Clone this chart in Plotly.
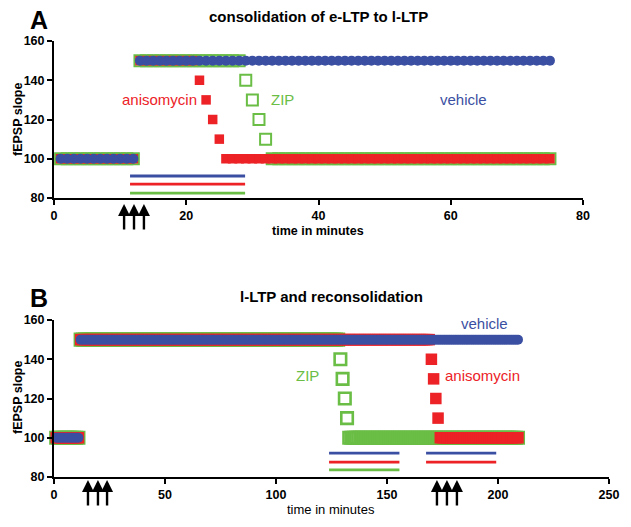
import plotly.graph_objects as go

# ---------------- Panel A data (minutes, fEPSP slope) ----------------
A_minutes = [
    1, 2, 3, 4, 5, 6, 7, 8, 9, 10,
    11, 12, 13, 14, 15, 16, 17, 18, 19, 20,
    21, 22, 23, 24, 25, 26, 27, 28, 29, 30,
    31, 32, 33, 34, 35, 36, 37, 38, 39, 40,
    41, 42, 43, 44, 45, 46, 47, 48, 49, 50,
    51, 52, 53, 54, 55, 56, 57, 58, 59, 60,
    61, 62, 63, 64, 65, 66, 67, 68, 69, 70,
    71, 72, 73, 74, 75,
]
A_vehicle = [
    100, 100, 100, 100, 100, 100, 100, 100, 100, 100,
    100, 100, 150, 150, 150, 150, 150, 150, 150, 150,
    150, 150, 150, 150, 150, 150, 150, 150, 150, 150,
    150, 150, 150, 150, 150, 150, 150, 150, 150, 150,
    150, 150, 150, 150, 150, 150, 150, 150, 150, 150,
    150, 150, 150, 150, 150, 150, 150, 150, 150, 150,
    150, 150, 150, 150, 150, 150, 150, 150, 150, 150,
    150, 150, 150, 150, 150,
]
A_anisomycin = [
    100, 100, 100, 100, 100, 100, 100, 100, 100, 100,
    100, 100, 150, 150, 150, 150, 150, 150, 150, 150,
    150, 140, 130, 120, 110, 100, 100, 100, 100, 100,
    100, 100, 100, 100, 100, 100, 100, 100, 100, 100,
    100, 100, 100, 100, 100, 100, 100, 100, 100, 100,
    100, 100, 100, 100, 100, 100, 100, 100, 100, 100,
    100, 100, 100, 100, 100, 100, 100, 100, 100, 100,
    100, 100, 100, 100, 100,
]
A_zip = [
    100, 100, 100, 100, 100, 100, 100, 100, 100, 100,
    100, 100, 150, 150, 150, 150, 150, 150, 150, 150,
    150, 150, 150, 150, 150, 150, 150, 150, 140, 130,
    120, 110, 100, 100, 100, 100, 100, 100, 100, 100,
    100, 100, 100, 100, 100, 100, 100, 100, 100, 100,
    100, 100, 100, 100, 100, 100, 100, 100, 100, 100,
    100, 100, 100, 100, 100, 100, 100, 100, 100, 100,
    100, 100, 100, 100, 100,
]
A_bar_span = [11.5, 28.9]
A_bar_levels = {"vehicle": 91.2, "anisomycin": 87.1, "ZIP": 82.5}
A_arrows = [10.6, 12.1, 13.6]
A_xticks = [0, 20, 40, 60, 80]

# ---------------- Panel B data ----------------
B_minutes = [
    1, 2, 3, 4, 5, 6, 7, 8, 9, 10,
    11, 12, 13, 14, 15, 16, 17, 18, 19, 20,
    21, 22, 23, 24, 25, 26, 27, 28, 29, 30,
    31, 32, 33, 34, 35, 36, 37, 38, 39, 40,
    41, 42, 43, 44, 45, 46, 47, 48, 49, 50,
    51, 52, 53, 54, 55, 56, 57, 58, 59, 60,
    61, 62, 63, 64, 65, 66, 67, 68, 69, 70,
    71, 72, 73, 74, 75, 76, 77, 78, 79, 80,
    81, 82, 83, 84, 85, 86, 87, 88, 89, 90,
    91, 92, 93, 94, 95, 96, 97, 98, 99, 100,
    101, 102, 103, 104, 105, 106, 107, 108, 109, 110,
    111, 112, 113, 114, 115, 116, 117, 118, 119, 120,
    121, 122, 123, 124, 125, 126, 127, 128, 129, 130,
    131, 132, 133, 134, 135, 136, 137, 138, 139, 140,
    141, 142, 143, 144, 145, 146, 147, 148, 149, 150,
    151, 152, 153, 154, 155, 156, 157, 158, 159, 160,
    161, 162, 163, 164, 165, 166, 167, 168, 169, 170,
    171, 172, 173, 174, 175, 176, 177, 178, 179, 180,
    181, 182, 183, 184, 185, 186, 187, 188, 189, 190,
    191, 192, 193, 194, 195, 196, 197, 198, 199, 200,
    201, 202, 203, 204, 205, 206, 207, 208, 209,
]
B_vehicle = [
    100, 100, 100, 100, 100, 100, 100, 100, 100, 100,
    100, 150, 150, 150, 150, 150, 150, 150, 150, 150,
    150, 150, 150, 150, 150, 150, 150, 150, 150, 150,
    150, 150, 150, 150, 150, 150, 150, 150, 150, 150,
    150, 150, 150, 150, 150, 150, 150, 150, 150, 150,
    150, 150, 150, 150, 150, 150, 150, 150, 150, 150,
    150, 150, 150, 150, 150, 150, 150, 150, 150, 150,
    150, 150, 150, 150, 150, 150, 150, 150, 150, 150,
    150, 150, 150, 150, 150, 150, 150, 150, 150, 150,
    150, 150, 150, 150, 150, 150, 150, 150, 150, 150,
    150, 150, 150, 150, 150, 150, 150, 150, 150, 150,
    150, 150, 150, 150, 150, 150, 150, 150, 150, 150,
    150, 150, 150, 150, 150, 150, 150, 150, 150, 150,
    150, 150, 150, 150, 150, 150, 150, 150, 150, 150,
    150, 150, 150, 150, 150, 150, 150, 150, 150, 150,
    150, 150, 150, 150, 150, 150, 150, 150, 150, 150,
    150, 150, 150, 150, 150, 150, 150, 150, 150, 150,
    150, 150, 150, 150, 150, 150, 150, 150, 150, 150,
    150, 150, 150, 150, 150, 150, 150, 150, 150, 150,
    150, 150, 150, 150, 150, 150, 150, 150, 150, 150,
    150, 150, 150, 150, 150, 150, 150, 150, 150,
]
B_anisomycin = [
    100, 100, 100, 100, 100, 100, 100, 100, 100, 100,
    100, 150, 150, 150, 150, 150, 150, 150, 150, 150,
    150, 150, 150, 150, 150, 150, 150, 150, 150, 150,
    150, 150, 150, 150, 150, 150, 150, 150, 150, 150,
    150, 150, 150, 150, 150, 150, 150, 150, 150, 150,
    150, 150, 150, 150, 150, 150, 150, 150, 150, 150,
    150, 150, 150, 150, 150, 150, 150, 150, 150, 150,
    150, 150, 150, 150, 150, 150, 150, 150, 150, 150,
    150, 150, 150, 150, 150, 150, 150, 150, 150, 150,
    150, 150, 150, 150, 150, 150, 150, 150, 150, 150,
    150, 150, 150, 150, 150, 150, 150, 150, 150, 150,
    150, 150, 150, 150, 150, 150, 150, 150, 150, 150,
    150, 150, 150, 150, 150, 150, 150, 150, 150, 150,
    150, 150, 150, 150, 150, 150, 150, 150, 150, 150,
    150, 150, 150, 150, 150, 150, 150, 150, 150, 150,
    150, 150, 150, 150, 150, 150, 150, 150, 150, 150,
    150, 150, 150, 150, 150, 150, 150, 150, 150, 140,
    130, 120, 110, 100, 100, 100, 100, 100, 100, 100,
    100, 100, 100, 100, 100, 100, 100, 100, 100, 100,
    100, 100, 100, 100, 100, 100, 100, 100, 100, 100,
    100, 100, 100, 100, 100, 100, 100, 100, 100,
]
B_zip = [
    100, 100, 100, 100, 100, 100, 100, 100, 100, 100,
    100, 150, 150, 150, 150, 150, 150, 150, 150, 150,
    150, 150, 150, 150, 150, 150, 150, 150, 150, 150,
    150, 150, 150, 150, 150, 150, 150, 150, 150, 150,
    150, 150, 150, 150, 150, 150, 150, 150, 150, 150,
    150, 150, 150, 150, 150, 150, 150, 150, 150, 150,
    150, 150, 150, 150, 150, 150, 150, 150, 150, 150,
    150, 150, 150, 150, 150, 150, 150, 150, 150, 150,
    150, 150, 150, 150, 150, 150, 150, 150, 150, 150,
    150, 150, 150, 150, 150, 150, 150, 150, 150, 150,
    150, 150, 150, 150, 150, 150, 150, 150, 150, 150,
    150, 150, 150, 150, 150, 150, 150, 150, 150, 150,
    150, 150, 150, 150, 150, 150, 150, 150, 140, 130,
    120, 110, 100, 100, 100, 100, 100, 100, 100, 100,
    100, 100, 100, 100, 100, 100, 100, 100, 100, 100,
    100, 100, 100, 100, 100, 100, 100, 100, 100, 100,
    100, 100, 100, 100, 100, 100, 100, 100, 100, 100,
    100, 100, 100, 100, 100, 100, 100, 100, 100, 100,
    100, 100, 100, 100, 100, 100, 100, 100, 100, 100,
    100, 100, 100, 100, 100, 100, 100, 100, 100, 100,
    100, 100, 100, 100, 100, 100, 100, 100, 100,
]
B_bar_span_1 = [123.9, 155.6]
B_bar_levels_1 = {"vehicle": 92.2, "anisomycin": 87.6, "ZIP": 83.6}
B_bar_span_2 = [167.6, 199.2]
B_bar_levels_2 = {"vehicle": 92.2, "anisomycin": 87.6}
B_arrows = [15.3, 19.8, 23.9, 172.5, 177.0, 181.5]
B_xticks = [0, 50, 100, 150, 200, 250]
yticks = [80, 100, 120, 140, 160]

# ---------------- styling ----------------
W, H = 631, 527
BLUE = "#3b4fa2"
RED = "#ec2227"
GREEN = "#6abd45"
FONT = "Liberation Sans, Arial, sans-serif"
colors = {"vehicle": BLUE, "anisomycin": RED, "ZIP": GREEN}

fig = go.Figure()


def add_series(xa, ya, t, zip_v, aniso_v, veh_v, sizes, gline):
    gsize, rsize, bsize = sizes
    fig.add_trace(go.Scatter(x=t, y=zip_v, mode="markers", xaxis=xa, yaxis=ya,
                             cliponaxis=False, showlegend=False, hoverinfo="skip",
                             marker=dict(symbol="square-open", size=gsize, color=GREEN,
                                         line=dict(width=gline, color=GREEN))))
    fig.add_trace(go.Scatter(x=t, y=aniso_v, mode="markers", xaxis=xa, yaxis=ya,
                             cliponaxis=False, showlegend=False, hoverinfo="skip",
                             marker=dict(symbol="square", size=rsize, color=RED,
                                         line=dict(width=0))))
    fig.add_trace(go.Scatter(x=t, y=veh_v, mode="markers", xaxis=xa, yaxis=ya,
                             cliponaxis=False, showlegend=False, hoverinfo="skip",
                             marker=dict(symbol="circle", size=bsize, color=BLUE,
                                         line=dict(width=0))))


add_series("x", "y", A_minutes, A_zip, A_anisomycin, A_vehicle, (11, 9.5, 10), 2)
add_series("x2", "y2", B_minutes, B_zip, B_anisomycin, B_vehicle, (11.5, 11.5, 10), 2.6)


def add_bars(xa, ya, span, levels):
    for name, lvl in levels.items():
        fig.add_trace(go.Scatter(x=span, y=[lvl, lvl], mode="lines", xaxis=xa, yaxis=ya,
                                 showlegend=False, hoverinfo="skip",
                                 line=dict(color=colors[name], width=2.8)))


add_bars("x", "y", A_bar_span, A_bar_levels)
add_bars("x2", "y2", B_bar_span_1, B_bar_levels_1)
add_bars("x2", "y2", B_bar_span_2, B_bar_levels_2)

annotations = []


def arrows(xref, xs, tip_px):
    for xv in xs:
        annotations.append(dict(x=xv, xref=xref, y=(H - tip_px) / H, yref="paper",
                                text="", showarrow=True, arrowhead=2, arrowsize=1,
                                arrowwidth=2.4, arrowcolor="black", ax=0, ay=27,
                                standoff=0))


arrows("x", A_arrows, 204)
arrows("x2", B_arrows, 480)


def txt(text, x, y, size, color="black", bold=False, xref="paper", yref="paper", angle=0):
    annotations.append(dict(text=text, x=x, y=y, xref=xref, yref=yref, showarrow=False,
                            textangle=angle, xanchor="center", yanchor="middle",
                            font=dict(family=FONT, size=size, color=color,
                                      weight="bold" if bold else "normal")))


def px(xp, yp):
    return xp / W, (H - yp) / H


# panel letters and titles
txt("A", *px(39, 20), 25, bold=True)
txt("B", *px(39, 298), 25, bold=True)
txt("consolidation of e-LTP to l-LTP", *px(319, 17), 15, bold=True)
txt("l-LTP and reconsolidation", *px(331, 297), 15, bold=True)
# axis titles
txt("fEPSP slope", *px(18, 120), 12.5, bold=True, angle=-90)
txt("fEPSP slope", *px(18, 398), 12.5, bold=True, angle=-90)
txt("time in minutes", *px(318, 231), 12.5, bold=True)
txt("time in minutes", *px(331, 509), 13)
# series labels
txt("anisomycin", 16.0, 130, 15, RED, xref="x", yref="y")
txt("ZIP", 34.6, 130, 15, GREEN, xref="x", yref="y")
txt("vehicle", 62.0, 130, 15, BLUE, xref="x", yref="y")
txt("vehicle", 193.7, 158, 15, BLUE, xref="x2", yref="y2")
txt("ZIP", 114.4, 131.5, 15, GREEN, xref="x2", yref="y2")
txt("anisomycin", 192.8, 131.5, 15, RED, xref="x2", yref="y2")

axis_common = dict(showline=True, linewidth=2, linecolor="black", ticks="outside",
                   ticklen=5, tickwidth=2, tickcolor="black", showgrid=False,
                   zeroline=False, fixedrange=True, automargin=False,
                   tickfont=dict(family=FONT, size=12.5, color="black", weight="bold"))

fig.update_layout(
    template="none",
    width=W, height=H,
    margin=dict(l=0, r=0, t=0, b=0, autoexpand=False),
    paper_bgcolor="white", plot_bgcolor="white",
    showlegend=False,
    hovermode=False,
    xaxis=dict(domain=[54 / W, 583 / W], range=[0, 80], tickvals=A_xticks,
               anchor="y", **axis_common),
    yaxis=dict(domain=[(H - 198) / H, (H - 41) / H], range=[80, 160], tickvals=yticks,
               anchor="x", **axis_common),
    xaxis2=dict(domain=[54 / W, 609 / W], range=[0, 250], tickvals=B_xticks,
                anchor="y2", **axis_common),
    yaxis2=dict(domain=[(H - 477) / H, (H - 320) / H], range=[80, 160], tickvals=yticks,
                anchor="x2", **axis_common),
    annotations=annotations,
)

fig.write_html("out.html",
               config={"displayModeBar": False},
               post_script="document.body.style.margin='0';document.body.style.overflow='hidden';")
